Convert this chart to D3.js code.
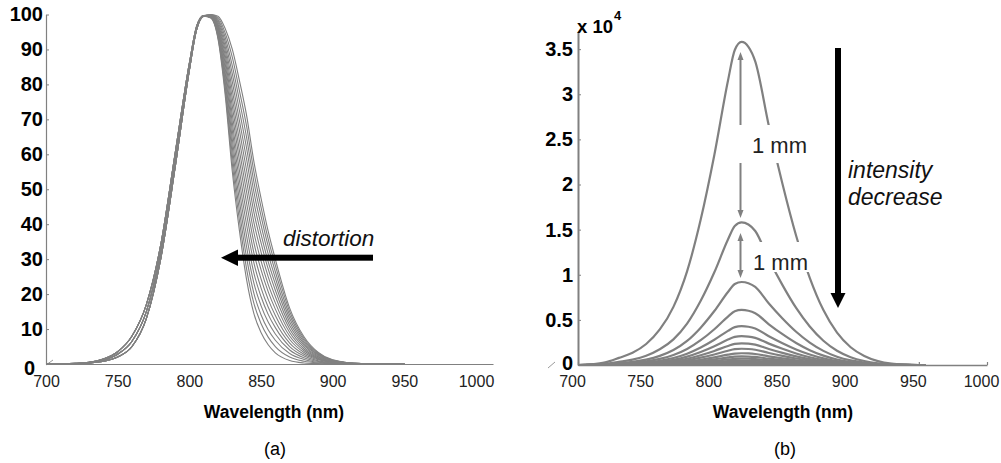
<!DOCTYPE html>
<html><head><meta charset="utf-8">
<script src="https://cdn.jsdelivr.net/npm/d3@7"></script>
<style>
body{margin:0;background:#fff}
svg{display:block}
text{font-family:"Liberation Sans",Arial,Helvetica,sans-serif}
</style>
</head><body>
<svg id="c" width="1001" height="463"></svg>
<script>
// ---------- DATA ----------
// Panel (a): normalized spectra (%), rising edge shared by groups, falling edge per curve
const xTicks = [700, 750, 800, 850, 900, 950, 1000];
const leftYTicks = [0, 10, 20, 30, 40, 50, 60, 70, 80, 90, 100];
const riseWl = [700, 720, 730, 740, 750, 760, 770, 780, 790, 800, 805, 810];
const riseA = [0, 0.1, 0.3, 0.8, 2.0, 5.0, 13, 30, 56, 84, 95.5, 99.5];
const riseB = [0, 0.1, 0.4, 1.1, 2.8, 6.5, 15, 32, 58, 85, 96, 99.6];
const riseC = [0, 0.2, 0.5, 1.4, 3.5, 8.0, 17, 34, 60, 86, 96.5, 99.7];
const fallWl = [815, 820, 825, 830, 835, 840, 845, 850, 855, 860, 870, 880, 890, 900, 920, 950];
const fall00 = [99.0, 93.0, 77.0, 55.0, 38.0, 24.0, 14.5, 9.0, 5.5, 3.2, 1.0, 0.3, 0.1, 0, 0, 0];
const fall01 = [99.1, 93.4, 78.3, 57.3, 40.9, 27.1, 17.4, 11.6, 7.7, 5.0, 2.0, 0.8, 0.3, 0.1, 0, 0];
const fall02 = [99.1, 93.9, 79.5, 59.7, 43.7, 30.3, 20.3, 14.1, 9.8, 6.8, 3.0, 1.3, 0.5, 0.2, 0, 0];
const fall03 = [99.2, 94.3, 80.8, 62.0, 46.6, 33.4, 23.2, 16.7, 12.0, 8.6, 4.0, 1.8, 0.7, 0.2, 0, 0];
const fall04 = [99.3, 94.7, 82.1, 64.3, 49.5, 36.5, 26.1, 19.3, 14.2, 10.4, 5.0, 2.3, 0.9, 0.3, 0, 0];
const fall05 = [99.3, 95.2, 83.3, 66.7, 52.3, 39.7, 29.0, 21.8, 16.3, 12.1, 6.0, 2.8, 1.2, 0.4, 0, 0];
const fall06 = [99.4, 95.6, 84.6, 69.0, 55.2, 42.8, 31.9, 24.4, 18.5, 13.9, 7.0, 3.3, 1.4, 0.5, 0, 0];
const fall07 = [99.5, 96.0, 85.9, 71.3, 58.1, 45.9, 34.8, 27.0, 20.7, 15.7, 8.0, 3.8, 1.6, 0.6, 0, 0];
const fall08 = [99.5, 96.5, 87.1, 73.7, 60.9, 49.1, 37.7, 29.5, 22.8, 17.5, 9.0, 4.3, 1.8, 0.6, 0.1, 0];
const fall09 = [99.6, 96.9, 88.4, 76.0, 63.8, 52.2, 40.6, 32.1, 25.0, 19.3, 10.0, 4.8, 2.0, 0.7, 0.1, 0];
const fall10 = [99.7, 97.3, 89.7, 78.3, 66.7, 55.3, 43.5, 34.7, 27.2, 21.1, 11.0, 5.3, 2.2, 0.8, 0.1, 0];
const fall11 = [99.7, 97.8, 90.9, 80.7, 69.5, 58.5, 46.4, 37.2, 29.3, 22.9, 12.0, 5.8, 2.5, 0.9, 0.1, 0];
const fall12 = [99.8, 98.2, 92.2, 83.0, 72.4, 61.6, 49.3, 39.8, 31.5, 24.6, 13.0, 6.3, 2.7, 1.0, 0.1, 0];
const fall13 = [99.9, 98.6, 93.5, 85.3, 75.3, 64.7, 52.2, 42.4, 33.7, 26.4, 14.0, 6.8, 2.9, 1.0, 0.1, 0];
const fall14 = [99.9, 99.1, 94.7, 87.7, 78.1, 67.9, 55.1, 44.9, 35.8, 28.2, 15.0, 7.3, 3.1, 1.1, 0.1, 0];
const fall15 = [100, 99.5, 96.0, 90.0, 81.0, 71.0, 58.0, 47.5, 38.0, 30.0, 16.0, 7.8, 3.3, 1.2, 0.1, 0];

// Panel (b): raw intensity spectra (counts)
const rightYTicks = [0, 5000, 10000, 15000, 20000, 25000, 30000, 35000];
const rightWl = [700, 710, 720, 730, 740, 750, 760, 770, 780, 790, 800, 810, 815, 820, 825,
                 830, 840, 850, 860, 870, 880, 890, 900, 910, 920, 930, 940, 950, 955];
const spec01 = [0, 72, 286, 788, 1360, 2327, 3938, 6444, 10382, 16110, 23270, 31504, 34905, 35800, 35263, 33652, 26492, 20048, 14320, 9666, 6086, 3580, 1969, 1002, 430, 143, 36, 0, 0];
const spec02 = [0, 32, 126, 348, 600, 1027, 1738, 2844, 4582, 7110, 10270, 13904, 15405, 15800, 15563, 14852, 11692, 8848, 6320, 4266, 2686, 1580, 869, 442, 190, 63, 16, 0, 0];
const spec03 = [0, 18, 74, 202, 350, 598, 1012, 1656, 2668, 4140, 5980, 8096, 8970, 9200, 9062, 8648, 6808, 5152, 3680, 2484, 1564, 920, 506, 258, 110, 37, 9, 0, 0];
const spec04 = [0, 12, 49, 134, 232, 397, 671, 1098, 1769, 2745, 3965, 5368, 5948, 6100, 6009, 5734, 4514, 3416, 2440, 1647, 1037, 610, 336, 171, 73, 24, 6, 0, 0];
const spec05 = [0, 9, 34, 95, 163, 280, 473, 774, 1247, 1935, 2795, 3784, 4193, 4300, 4236, 4042, 3182, 2408, 1720, 1161, 731, 430, 237, 120, 52, 17, 4, 0, 0];
const spec06 = [0, 6, 26, 70, 122, 208, 352, 576, 928, 1440, 2080, 2816, 3120, 3200, 3152, 3008, 2368, 1792, 1280, 864, 544, 320, 176, 90, 38, 13, 3, 0, 0];
const spec07 = [0, 5, 19, 53, 91, 156, 264, 432, 696, 1080, 1560, 2112, 2340, 2400, 2364, 2256, 1776, 1344, 960, 648, 408, 240, 132, 67, 29, 10, 2, 0, 0];
const spec08 = [0, 4, 14, 40, 68, 117, 198, 324, 522, 810, 1170, 1584, 1755, 1800, 1773, 1692, 1332, 1008, 720, 486, 306, 180, 99, 50, 22, 7, 2, 0, 0];
const spec09 = [0, 3, 10, 29, 49, 85, 143, 234, 377, 585, 845, 1144, 1268, 1300, 1281, 1222, 962, 728, 520, 351, 221, 130, 72, 36, 16, 5, 1, 0, 0];
const spec10 = [0, 2, 8, 21, 36, 62, 105, 171, 276, 428, 618, 836, 926, 950, 936, 893, 703, 532, 380, 257, 162, 95, 52, 27, 11, 4, 1, 0, 0];
const spec11 = [0, 1, 6, 15, 27, 46, 77, 126, 203, 315, 455, 616, 683, 700, 690, 658, 518, 392, 280, 189, 119, 70, 39, 20, 8, 3, 1, 0, 0];
const spec12 = [0, 1, 4, 11, 19, 33, 55, 90, 145, 225, 325, 440, 488, 500, 493, 470, 370, 280, 200, 135, 85, 50, 28, 14, 6, 2, 1, 0, 0];
const spec13 = [0, 1, 3, 8, 13, 23, 39, 63, 102, 158, 228, 308, 341, 350, 345, 329, 259, 196, 140, 95, 60, 35, 19, 10, 4, 1, 0, 0, 0];
const spec14 = [0, 0, 2, 5, 8, 14, 24, 40, 64, 99, 143, 194, 215, 220, 217, 207, 163, 123, 88, 59, 37, 22, 12, 6, 3, 1, 0, 0, 0];
const spec15 = [0, 0, 1, 3, 5, 8, 13, 22, 35, 54, 78, 106, 117, 120, 118, 113, 89, 67, 48, 32, 20, 12, 7, 3, 1, 0, 0, 0, 0];

// ---------- BUILD ----------
const leftFalls = [fall00, fall01, fall02, fall03, fall04, fall05, fall06, fall07,
                   fall08, fall09, fall10, fall11, fall12, fall13, fall14, fall15];
const leftRises = [riseA, riseB, riseC];
const leftCurves = leftFalls.map((f, i) => {
  const r = leftRises[i % 3];
  return riseWl.map((w, j) => [w, r[j]]).concat(fallWl.map((w, j) => [w, f[j]]));
});
const rightSpecs = [spec01, spec02, spec03, spec04, spec05, spec06, spec07, spec08,
                    spec09, spec10, spec11, spec12, spec13, spec14, spec15];
const rightCurves = rightSpecs.map(s => rightWl.map((w, j) => [w, s[j]]));

const FONT = "Liberation Sans, Arial, sans-serif";
const svg = d3.select("#c");
svg.append("rect").attr("width", 1001).attr("height", 463).attr("fill", "#fff");
const GRAY = "#808080";

// ===== Panel (a) =====
const xL = d3.scaleLinear().domain([700, 1000]).range([46, 476]);
const yL = d3.scaleLinear().domain([0, 100]).range([364, 14.5]);
const lineL = d3.line().x(d => xL(d[0])).y(d => yL(d[1])).curve(d3.curveMonotoneX);

const gL = svg.append("g");
gL.selectAll("path.c").data(leftCurves).join("path")
  .attr("class", "c").attr("d", lineL)
  .attr("fill", "none").attr("stroke", GRAY).attr("stroke-width", 1.1);

const xLaxis = xL.copy().domain([700, xL.invert(493)]).range([46, 493]);
const axL = gL.append("g").attr("transform", "translate(0,364)")
  .call(d3.axisBottom(xLaxis).tickValues(xTicks).tickFormat(d3.format("d")).tickSize(0).tickPadding(11.5));
axL.select(".domain").attr("stroke", GRAY).attr("stroke-width", 1.2);
axL.selectAll("text").attr("font-size", 16).attr("fill", "#222").attr("font-family", FONT);

const ayL = gL.append("g").attr("transform", "translate(46,0)")
  .call(d3.axisLeft(yL).tickValues(leftYTicks).tickSizeInner(-3).tickSizeOuter(0).tickPadding(3));
ayL.select(".domain").attr("stroke", GRAY).attr("stroke-width", 1.2);
ayL.selectAll(".tick line").attr("stroke", GRAY);
ayL.selectAll("text").attr("font-size", 20).attr("font-weight", "bold").attr("fill", "#000")
  .attr("font-family", FONT);
ayL.selectAll(".tick").filter(d => d === 0).select("text").attr("x", -11).attr("dy", "0.5em");
gL.append("line").attr("x1", 46).attr("y1", 365).attr("x2", 53).attr("y2", 360)
  .attr("stroke", GRAY).attr("stroke-width", 0.8);

gL.append("text").attr("x", 274).attr("y", 418).attr("text-anchor", "middle")
  .attr("font-size", 17.5).attr("font-weight", "bold").text("Wavelength (nm)");
gL.append("text").attr("x", 275).attr("y", 455).attr("text-anchor", "middle")
  .attr("font-size", 18).text("(a)");

// distortion arrow
gL.append("rect").attr("x", 236).attr("y", 254.7).attr("width", 137).attr("height", 6).attr("fill", "#000");
gL.append("polygon").attr("points", "221,257.7 238,249.5 238,265.9").attr("fill", "#000");
gL.append("text").attr("x", 283).attr("y", 246).attr("font-size", 22.5).attr("font-style", "italic")
  .attr("fill", "#111").text("distortion");

// ===== Panel (b) =====
const xR = d3.scaleLinear().domain([700, 1000]).range([578, 987]);
const yR = d3.scaleLinear().domain([0, 36900]).range([365, 32]);
const lineR = d3.line().x(d => xR(d[0])).y(d => yR(d[1])).curve(d3.curveMonotoneX);

const gR = svg.append("g");
const axR = gR.append("g").attr("transform", "translate(0,365)")
  .call(d3.axisBottom(xR).tickValues(xTicks).tickFormat(d3.format("d")).tickSizeInner(-3).tickSizeOuter(0).tickPadding(10.5));
axR.select(".domain").attr("stroke", GRAY).attr("stroke-width", 1.5);
axR.selectAll(".tick line").attr("stroke", GRAY).attr("stroke-width", 1.2);
axR.selectAll("text").attr("font-size", 16).attr("fill", "#222").attr("x", -6).attr("font-family", FONT);

gR.selectAll("path.c").data(rightCurves).join("path")
  .attr("class", "c").attr("d", lineR)
  .attr("fill", "none").attr("stroke", GRAY).attr("stroke-width", 2.2);

const ayR = gR.append("g").attr("transform", "translate(578,0)")
  .call(d3.axisLeft(yR).tickValues(rightYTicks).tickSizeInner(-3).tickSizeOuter(0).tickPadding(5)
    .tickFormat(d => d === 0 ? "0" : String(d / 1e4)));
ayR.select(".domain").attr("stroke", GRAY).attr("stroke-width", 2);
ayR.selectAll(".tick line").attr("stroke", GRAY);
ayR.selectAll("text").attr("font-size", 20).attr("font-weight", "bold").attr("fill", "#000")
  .attr("font-family", FONT);
ayR.selectAll(".tick").filter(d => d === 0).select("text").attr("dy", "0.22em");
gR.append("line").attr("x1", 548).attr("y1", 368).attr("x2", 555).attr("y2", 362)
  .attr("stroke", GRAY).attr("stroke-width", 0.8);

gR.append("text").attr("x", 577).attr("y", 33).attr("font-size", 18.5).attr("font-weight", "bold").text("x 10");
gR.append("text").attr("x", 614).attr("y", 20).attr("font-size", 13).attr("font-weight", "bold").text("4");

gR.append("text").attr("x", 783).attr("y", 418).attr("text-anchor", "middle")
  .attr("font-size", 17.5).attr("font-weight", "bold").text("Wavelength (nm)");
gR.append("text").attr("x", 785).attr("y", 455).attr("text-anchor", "middle")
  .attr("font-size", 18).text("(b)");

// 1 mm arrows
function dbl(x, y1, y2) {
  gR.append("line").attr("x1", x).attr("x2", x).attr("y1", y1 + 5).attr("y2", y2 - 5)
    .attr("stroke", GRAY).attr("stroke-width", 2);
  gR.append("polygon").attr("points", `${x},${y1} ${x - 3},${y1 + 8} ${x + 3},${y1 + 8}`).attr("fill", GRAY);
  gR.append("polygon").attr("points", `${x},${y2} ${x - 3},${y2 - 8} ${x + 3},${y2 - 8}`).attr("fill", GRAY);
}
dbl(740.5, 52, 218);
dbl(740.5, 233, 278);
gR.append("rect").attr("x", 739).attr("y", 125).attr("width", 69).attr("height", 38).attr("fill", "#fff");
gR.append("rect").attr("x", 748).attr("y", 242).attr("width", 62).attr("height", 30).attr("fill", "#fff");
gR.append("text").attr("x", 752).attr("y", 153).attr("font-size", 22).attr("fill", "#222").text("1 mm");
gR.append("text").attr("x", 753).attr("y", 270).attr("font-size", 22).attr("fill", "#222").text("1 mm");

// intensity decrease arrow
gR.append("rect").attr("x", 835).attr("y", 48).attr("width", 6).attr("height", 246).attr("fill", "#000");
gR.append("polygon").attr("points", "830.5,293 845.5,293 838,308").attr("fill", "#000");
gR.append("text").attr("x", 848).attr("y", 178).attr("font-size", 23).attr("font-style", "italic")
  .attr("fill", "#111").text("intensity");
gR.append("text").attr("x", 848).attr("y", 205).attr("font-size", 23).attr("font-style", "italic")
  .attr("fill", "#111").text("decrease");
</script>
</body></html>
